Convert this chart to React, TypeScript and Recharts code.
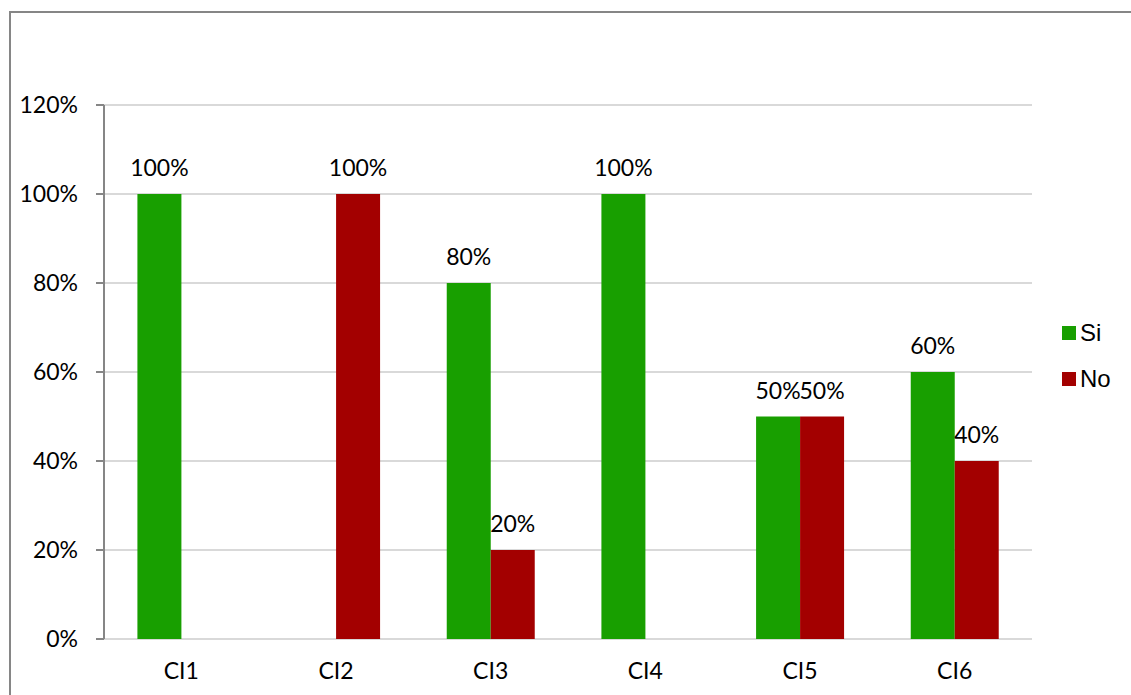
import { BarChart, Bar, XAxis, YAxis, CartesianGrid, LabelList } from "recharts";

const categories = ["CI1", "CI2", "CI3", "CI4", "CI5", "CI6"];
const siValues = [1.0, null, 0.8, 1.0, 0.5, 0.6];
const noValues = [null, 1.0, 0.2, null, 0.5, 0.4];
const yTicks = [0, 0.2, 0.4, 0.6, 0.8, 1.0, 1.2];
const boundaryTicks = [0, 1, 2, 3, 4, 5, 6];
const legendItems = ["Si", "No"];

const GREEN = "#189F00";
const RED = "#A30000";
const AXIS = "#868686";
const FONT = "Lato, 'Open Sans', sans-serif";
const FS = 23;

const data = categories.map((name, i) => ({ name, si: siValues[i], no: noValues[i], pos: i }));

const pct = (v: number) => `${Math.round(v * 100)}%`;

export default function App() {
  const colors = [GREEN, RED];
  return (
    <div style={{ position: "fixed", left: 0, top: 0, width: 1131, height: 695, background: "#fff", overflow: "hidden" }}>
      <div
        style={{
          position: "absolute",
          left: 9,
          top: 11,
          width: 1200,
          height: 800,
          borderLeft: `2px solid ${AXIS}`,
          borderTop: `2px solid ${AXIS}`,
        }}
      />
      <div style={{ position: "absolute", left: 0, top: 0 }}>
        <BarChart
          width={1131}
          height={695}
          data={data}
          margin={{ top: 105, right: 99, bottom: 0, left: 0 }}
          barCategoryGap="21.6%"
          barGap={0}
        >
          <CartesianGrid vertical={false} stroke="#D9D9D9" strokeWidth={2} xAxisId="cat" />
          <XAxis
            dataKey="pos"
            xAxisId="bounds"
            type="number"
            domain={[0, 6]}
            ticks={boundaryTicks}
            height={0}
            tick={false}
            tickSize={8}
            tickLine={{ stroke: AXIS, strokeWidth: 2 }}
            axisLine={{ stroke: AXIS, strokeWidth: 2 }}
          />
          <XAxis
            dataKey="name"
            xAxisId="cat"
            height={56}
            tickLine={false}
            axisLine={false}
            tick={{ fill: "#000", fontSize: FS, fontFamily: FONT }}
            tickMargin={18}
            interval={0}
          />
          <YAxis
            width={104}
            domain={[0, 1.2]}
            ticks={yTicks}
            tickFormatter={pct}
            tick={{ fill: "#000", fontSize: FS, fontFamily: FONT }}
            tickSize={8}
            tickMargin={18}
            tickLine={{ stroke: AXIS, strokeWidth: 2 }}
            axisLine={{ stroke: AXIS, strokeWidth: 2 }}
          />
          <Bar dataKey="si" name="Si" xAxisId="cat" fill={GREEN} isAnimationActive={false}>
            <LabelList dataKey="si" position="top" offset={18} formatter={(v: any) => (v == null ? "" : pct(v))} fill="#000" fontSize={FS} fontFamily={FONT} />
          </Bar>
          <Bar dataKey="no" name="No" xAxisId="cat" fill={RED} isAnimationActive={false}>
            <LabelList dataKey="no" position="top" offset={18} formatter={(v: any) => (v == null ? "" : pct(v))} fill="#000" fontSize={FS} fontFamily={FONT} />
          </Bar>
        </BarChart>
      </div>
      <div
        style={{
          position: "absolute",
          left: 1062,
          top: 310,
          fontFamily: "'Liberation Sans', Arial, sans-serif",
          fontSize: 24,
          color: "#000",
        }}
      >
        {legendItems.map((label, i) => (
          <div key={label} style={{ display: "flex", alignItems: "center", height: 46 }}>
            <span style={{ width: 14, height: 14, background: colors[i], marginRight: 4, display: "inline-block" }} />
            <span>{label}</span>
          </div>
        ))}
      </div>
    </div>
  );
}
